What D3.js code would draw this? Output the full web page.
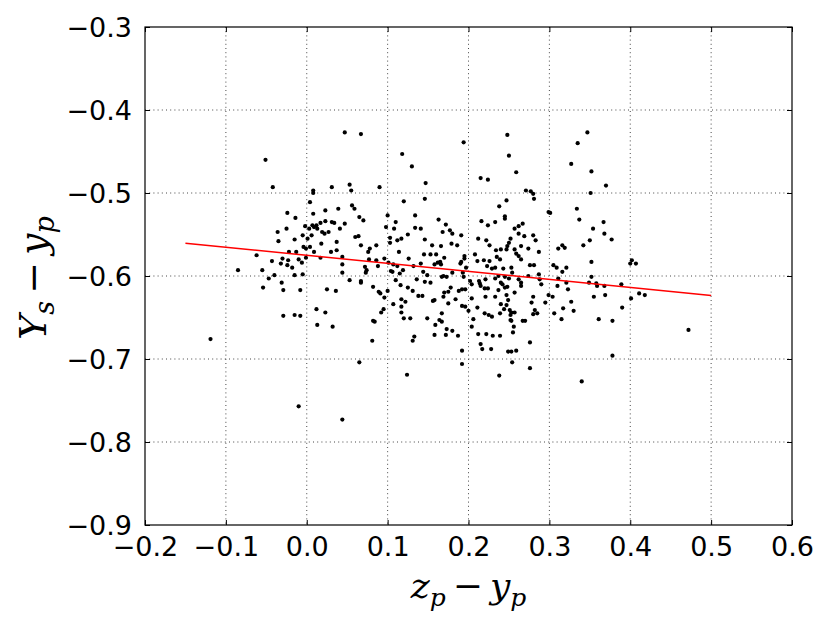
<!DOCTYPE html>
<html>
<head>
<meta charset="utf-8">
<script src="https://cdn.jsdelivr.net/npm/d3@7/dist/d3.min.js"></script>
<style>
  html, body { margin: 0; padding: 0; background: #fff; }
  svg { display: block; }
</style>
</head>
<body>
<svg id="chart" width="830" height="623"></svg>
<script>
// ---- data ----
const xTicks = [-0.2, -0.1, 0.0, 0.1, 0.2, 0.3, 0.4, 0.5, 0.6];
const xTickLabels = ["\u22120.2", "\u22120.1", "0.0", "0.1", "0.2", "0.3", "0.4", "0.5", "0.6"];
const yTicks = [-0.9, -0.8, -0.7, -0.6, -0.5, -0.4, -0.3];
const yTickLabels = ["\u22120.9", "\u22120.8", "\u22120.7", "\u22120.6", "\u22120.5", "\u22120.4", "\u22120.3"];
const xDomain = [-0.2, 0.6];
const yDomain = [-0.9, -0.3];
const fitX = [-0.15, 0.5];
const fitY = [-0.5605, -0.6235];
const points = [
[-0.051,-0.460],[-0.042,-0.493],[-0.024,-0.524],[-0.014,-0.530],[-0.036,-0.547],[-0.025,-0.543],[-0.035,-0.558],[-0.015,-0.556],[-0.062,-0.575],[-0.043,-0.582],[-0.032,-0.585],[-0.030,-0.579],[-0.024,-0.587],[-0.023,-0.581],[-0.022,-0.571],[-0.018,-0.590],[-0.013,-0.571],[-0.010,-0.580],
[-0.085,-0.593],[-0.055,-0.593],[-0.047,-0.603],[-0.040,-0.599],[-0.015,-0.599],[-0.031,-0.608],[-0.029,-0.617],[-0.054,-0.614],[-0.008,-0.617],[-0.005,-0.598],[-0.029,-0.648],[-0.015,-0.647],[-0.008,-0.648],[-0.119,-0.676],[-0.010,-0.757],
[0.047,-0.427],[0.067,-0.429],[0.118,-0.453],[0.130,-0.468],[0.031,-0.493],[0.053,-0.490],[0.055,-0.497],[0.090,-0.493],[0.008,-0.497],[0.008,-0.500],[0.004,-0.511],[0.120,-0.510],[0.023,-0.521],[0.039,-0.519],[0.056,-0.515],[0.059,-0.519],[0.008,-0.525],[0.065,-0.529],[0.070,-0.533],[0.100,-0.527],[0.110,-0.535],[0.134,-0.527],[-0.002,-0.540],[0.003,-0.543],[0.007,-0.539],[0.009,-0.541],[0.012,-0.539],[0.013,-0.543],[0.017,-0.536],[0.023,-0.534],[0.031,-0.535],[0.034,-0.536],[0.047,-0.537],[0.041,-0.543],[-0.005,-0.551],[0.006,-0.551],[0.019,-0.547],[0.022,-0.549],[0.027,-0.547],[0.060,-0.553],[0.064,-0.552],[0.098,-0.541],[0.108,-0.543],[0.103,-0.554],[0.112,-0.557],[0.117,-0.555],[0.125,-0.550],[0.134,-0.542],[0.001,-0.555],[0.037,-0.559],[0.018,-0.561],[0.067,-0.563],[-0.004,-0.565],[-0.001,-0.567],[0.004,-0.565],[0.037,-0.569],[0.030,-0.571],[0.009,-0.571],[0.078,-0.567],[0.076,-0.571],[0.086,-0.563],[0.103,-0.560],[0.114,-0.571],[0.044,-0.577],[0.017,-0.578],[-0.006,-0.584],[-0.001,-0.578],[0.044,-0.586],[0.077,-0.580],[0.086,-0.581],[0.096,-0.579],[0.072,-0.589],[0.088,-0.588],[0.101,-0.584],[0.107,-0.586],[0.112,-0.588],[0.126,-0.579],[0.132,-0.588],
[0.044,-0.596],[0.073,-0.596],[0.074,-0.593],[0.104,-0.594],[0.106,-0.595],[0.115,-0.597],[0.119,-0.593],[0.053,-0.605],[0.067,-0.606],[0.067,-0.608],[0.110,-0.605],[0.116,-0.611],[0.125,-0.614],[0.131,-0.618],[0.082,-0.613],[0.089,-0.619],[0.091,-0.621],[0.100,-0.618],[0.096,-0.626],[0.025,-0.616],[0.036,-0.618],[0.117,-0.628],[0.122,-0.631],[0.107,-0.634],[0.117,-0.637],[0.117,-0.644],[0.120,-0.651],[0.128,-0.651],[0.012,-0.640],[0.023,-0.644],[0.095,-0.640],[0.092,-0.644],[0.013,-0.659],[0.032,-0.661],[0.082,-0.654],[0.084,-0.655],[0.081,-0.678],[0.133,-0.673],[0.131,-0.678],[0.065,-0.704],[0.124,-0.719],[0.044,-0.773],
[0.194,-0.439],[0.248,-0.430],[0.250,-0.455],[0.259,-0.475],[0.215,-0.482],[0.224,-0.484],[0.147,-0.488],[0.271,-0.497],[0.146,-0.507],[0.247,-0.509],[0.238,-0.516],[0.245,-0.528],[0.245,-0.531],[0.163,-0.532],[0.172,-0.538],[0.216,-0.534],[0.224,-0.539],[0.233,-0.535],[0.141,-0.543],[0.168,-0.547],[0.177,-0.545],[0.180,-0.549],[0.257,-0.543],[0.262,-0.540],[0.267,-0.537],[0.262,-0.549],[0.269,-0.552],[0.191,-0.551],[0.212,-0.555],[0.222,-0.557],[0.252,-0.555],[0.146,-0.556],[0.155,-0.563],[0.166,-0.564],[0.179,-0.561],[0.186,-0.563],[0.226,-0.563],[0.250,-0.560],[0.248,-0.564],[0.247,-0.568],[0.240,-0.568],[0.234,-0.569],[0.265,-0.564],[0.257,-0.568],[0.259,-0.573],[0.262,-0.576],[0.265,-0.580],[0.274,-0.567],[0.145,-0.574],[0.153,-0.574],[0.160,-0.574],[0.170,-0.578],[0.195,-0.576],[0.195,-0.579],[0.208,-0.574],[0.235,-0.577],[0.239,-0.580],[0.211,-0.582],[0.219,-0.581],[0.226,-0.582],[0.141,-0.585],[0.158,-0.586],[0.162,-0.584],[0.165,-0.583],[0.166,-0.586],[0.190,-0.585],[0.191,-0.583],[0.223,-0.588],[0.229,-0.591],[0.233,-0.590],[0.243,-0.591],[0.253,-0.590],[0.276,-0.587],[0.197,-0.590],
[0.144,-0.595],[0.149,-0.599],[0.169,-0.600],[0.167,-0.601],[0.173,-0.601],[0.180,-0.596],[0.193,-0.596],[0.194,-0.601],[0.136,-0.604],[0.146,-0.607],[0.153,-0.608],[0.202,-0.606],[0.204,-0.610],[0.213,-0.606],[0.214,-0.609],[0.215,-0.612],[0.221,-0.604],[0.233,-0.603],[0.237,-0.600],[0.240,-0.608],[0.242,-0.610],[0.245,-0.601],[0.250,-0.603],[0.265,-0.608],[0.265,-0.612],[0.262,-0.604],[0.254,-0.596],[0.274,-0.600],[0.178,-0.614],[0.175,-0.619],[0.170,-0.620],[0.188,-0.618],[0.192,-0.616],[0.196,-0.616],[0.220,-0.615],[0.224,-0.615],[0.237,-0.617],[0.245,-0.614],[0.248,-0.613],[0.257,-0.620],[0.138,-0.624],[0.143,-0.624],[0.156,-0.630],[0.158,-0.629],[0.169,-0.625],[0.184,-0.628],[0.175,-0.633],[0.204,-0.627],[0.221,-0.625],[0.233,-0.625],[0.247,-0.623],[0.249,-0.629],[0.192,-0.636],[0.196,-0.637],[0.200,-0.642],[0.211,-0.638],[0.240,-0.634],[0.247,-0.635],[0.244,-0.640],[0.251,-0.641],[0.253,-0.644],[0.257,-0.644],[0.167,-0.645],[0.220,-0.645],[0.225,-0.647],[0.229,-0.649],[0.239,-0.645],[0.252,-0.647],[0.252,-0.653],[0.253,-0.654],[0.149,-0.651],[0.164,-0.653],[0.167,-0.655],[0.206,-0.652],[0.267,-0.654],[0.270,-0.654],[0.159,-0.659],[0.204,-0.661],[0.256,-0.661],[0.173,-0.664],[0.180,-0.666],[0.187,-0.672],[0.158,-0.671],[0.172,-0.671],[0.212,-0.670],[0.222,-0.670],[0.230,-0.672],[0.239,-0.672],[0.255,-0.668],[0.276,-0.680],[0.215,-0.682],[0.217,-0.688],[0.228,-0.688],[0.192,-0.690],[0.249,-0.691],[0.253,-0.691],[0.259,-0.690],[0.192,-0.706],[0.254,-0.704],[0.276,-0.711],[0.238,-0.720],
[0.347,-0.427],[0.335,-0.440],[0.327,-0.465],[0.352,-0.474],[0.370,-0.491],[0.277,-0.498],[0.280,-0.501],[0.351,-0.500],[0.281,-0.507],[0.299,-0.523],[0.301,-0.524],[0.334,-0.519],[0.337,-0.532],[0.367,-0.535],[0.354,-0.543],[0.368,-0.549],[0.377,-0.556],[0.280,-0.551],[0.283,-0.557],[0.350,-0.557],[0.342,-0.563],[0.287,-0.571],[0.311,-0.567],[0.316,-0.563],[0.319,-0.566],[0.281,-0.587],[0.305,-0.587],[0.309,-0.590],[0.321,-0.590],[0.352,-0.583],[0.402,-0.581],[0.400,-0.585],[0.407,-0.585],
[0.287,-0.598],[0.316,-0.595],[0.311,-0.603],[0.352,-0.601],[0.288,-0.604],[0.290,-0.610],[0.310,-0.612],[0.321,-0.608],[0.323,-0.616],[0.349,-0.608],[0.358,-0.609],[0.359,-0.612],[0.368,-0.612],[0.389,-0.610],[0.280,-0.625],[0.278,-0.632],[0.299,-0.623],[0.304,-0.625],[0.295,-0.632],[0.355,-0.625],[0.369,-0.623],[0.411,-0.621],[0.418,-0.623],[0.401,-0.627],[0.327,-0.631],[0.282,-0.641],[0.280,-0.646],[0.285,-0.645],[0.306,-0.645],[0.317,-0.639],[0.330,-0.642],[0.390,-0.638],[0.315,-0.652],[0.361,-0.652],[0.378,-0.654],[0.378,-0.696],[0.340,-0.727],
[0.472,-0.665]
];

// ---- layout ----
const margin = { left: 145, top: 27, right: 38, bottom: 98 };
const W = 830, H = 623;
const iw = W - margin.left - margin.right;
const ih = H - margin.top - margin.bottom;

const svg = d3.select("#chart");
const g = svg.append("g").attr("transform", `translate(${margin.left},${margin.top})`);

const x = d3.scaleLinear().domain(xDomain).range([0, iw]);
const y = d3.scaleLinear().domain(yDomain).range([ih, 0]);

const tickFont = "'DejaVu Sans', sans-serif";

// grid
g.append("g").selectAll("line.gx").data(xTicks.slice(1, -1)).join("line")
  .attr("x1", d => x(d)).attr("x2", d => x(d)).attr("y1", 0).attr("y2", ih)
  .attr("stroke", "#000").attr("stroke-width", 0.8).attr("stroke-dasharray", "1,3.2").attr("opacity", 0.9);
g.append("g").selectAll("line.gy").data(yTicks.slice(1, -1)).join("line")
  .attr("y1", d => y(d)).attr("y2", d => y(d)).attr("x1", 0).attr("x2", iw)
  .attr("stroke", "#000").attr("stroke-width", 0.8).attr("stroke-dasharray", "1,3.2").attr("opacity", 0.9);

// axes with inward ticks (bottom/left with labels, top/right without)
const xAxis = d3.axisBottom(x).tickValues(xTicks).tickSizeInner(-5).tickSizeOuter(0)
  .tickFormat((d, i) => xTickLabels[i]).tickPadding(12);
const yAxis = d3.axisLeft(y).tickValues(yTicks).tickSizeInner(-5).tickSizeOuter(0)
  .tickFormat((d, i) => yTickLabels[i]).tickPadding(13);

const gx = g.append("g").attr("transform", `translate(0,${ih})`).call(xAxis);
const gy = g.append("g").call(yAxis);
[gx, gy].forEach(a => {
  a.select(".domain").remove();
  a.selectAll(".tick line").attr("stroke", "#000").attr("stroke-width", 1);
  a.selectAll(".tick text").attr("fill", "#000").style("font-family", tickFont).style("font-size", "27px");
});
gx.selectAll(".tick text").attr("dy", "0.72em");
gy.selectAll(".tick text").attr("dy", "0.36em");

const gxt = g.append("g").call(d3.axisTop(x).tickValues(xTicks).tickSizeInner(-5).tickSizeOuter(0).tickFormat(""));
const gyr = g.append("g").attr("transform", `translate(${iw},0)`).call(d3.axisRight(y).tickValues(yTicks).tickSizeInner(-5).tickSizeOuter(0).tickFormat(""));
[gxt, gyr].forEach(a => {
  a.select(".domain").remove();
  a.selectAll(".tick line").attr("stroke", "#000").attr("stroke-width", 1);
});

// points
g.append("g").selectAll("circle").data(points).join("circle")
  .attr("cx", d => x(d[0])).attr("cy", d => y(d[1])).attr("r", 2.1).attr("fill", "#000");

// fit line
g.append("line")
  .attr("x1", x(fitX[0])).attr("y1", y(fitY[0]))
  .attr("x2", x(fitX[1])).attr("y2", y(fitY[1]))
  .attr("stroke", "#ff0000").attr("stroke-width", 1.5);

// frame
g.append("rect").attr("x", 0).attr("y", 0).attr("width", iw).attr("height", ih)
  .attr("fill", "none").attr("stroke", "#000").attr("stroke-width", 1.2);

// labels
const labelFont = "'DejaVu Serif', 'Liberation Serif', serif";
function mathLabel(sel, size, main1, sub1, main2, sub2) {
  const sub = Math.round(size * 0.7);
  const shift = Math.round(size * 0.22);
  sel.style("font-family", labelFont).style("font-size", size + "px").attr("fill", "#000");
  sel.append("tspan").style("font-style", "italic").text(main1);
  sel.append("tspan").style("font-style", "italic").style("font-size", sub + "px").attr("dy", shift).text(sub1);
  sel.append("tspan").attr("dy", -shift).attr("dx", 7).text("\u2212");
  sel.append("tspan").style("font-style", "italic").attr("dx", 7).text(main2);
  sel.append("tspan").style("font-style", "italic").style("font-size", sub + "px").attr("dy", shift).text(sub2);
}
const xl = svg.append("text").attr("x", margin.left + iw / 2).attr("y", 598).attr("text-anchor", "middle");
mathLabel(xl, 36, "z", "p", "y", "p");
const yl = svg.append("text").attr("transform", `translate(46,${margin.top + ih / 2 + 2}) rotate(-90)`).attr("text-anchor", "middle");
mathLabel(yl, 38, "Y", "s", "y", "p");
</script>
</body>
</html>
